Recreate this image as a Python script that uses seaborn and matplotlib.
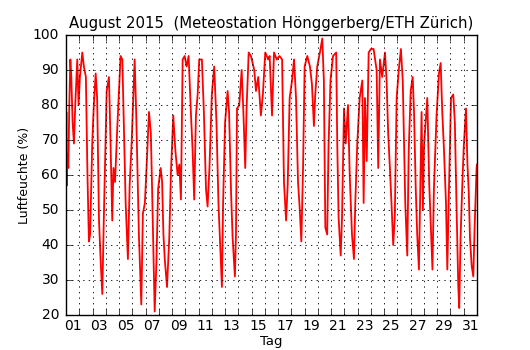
import matplotlib
matplotlib.use("Agg")
import matplotlib.pyplot as plt
import seaborn as sns
import pandas as pd
from matplotlib.ticker import MultipleLocator, FixedLocator, FixedFormatter, NullFormatter

# Time in days since 1 Aug 2015 00:00, relative humidity in %
tage = [
    0.00, 0.03, 0.06, 0.10, 0.18, 0.25, 0.33, 0.40, 0.50, 0.60, 0.70, 0.85, 0.95,
    1.05, 1.15, 1.23, 1.35, 1.50, 1.62, 1.73, 1.82, 1.98,
    2.10, 2.24, 2.35, 2.49, 2.62, 2.74, 2.85,
    3.07, 3.24, 3.35, 3.49, 3.58, 3.70, 3.85,
    4.12, 4.25, 4.50, 4.67, 4.80, 4.95,
    5.18, 5.30, 5.50, 5.68, 5.80, 5.95,
    6.10, 6.26, 6.40, 6.50, 6.69, 6.82, 6.95,
    7.14, 7.25, 7.35, 7.45, 7.62, 7.79, 7.92,
    8.09, 8.25, 8.42, 8.55, 8.67, 8.80, 8.95,
    9.10, 9.25, 9.43, 9.55, 9.67, 9.80, 9.93,
    10.05, 10.25, 10.40, 10.56, 10.68, 10.82,
    11.00, 11.18, 11.35, 11.50, 11.63, 11.76, 11.85,
    12.00, 12.19, 12.30, 12.45, 12.57, 12.74, 12.82, 12.90,
    13.07, 13.25, 13.38, 13.52, 13.62, 13.78, 13.95,
    14.20, 14.33, 14.50, 14.70, 14.85,
    15.03, 15.25, 15.36, 15.54, 15.69, 15.90,
    16.10, 16.30, 16.44, 16.60, 16.72, 16.87,
    17.05, 17.20, 17.35, 17.50, 17.62, 17.75, 17.88,
    18.00, 18.20, 18.40, 18.55, 18.70, 18.80, 18.95,
    19.20, 19.33, 19.45, 19.56, 19.70, 19.80, 19.95,
    20.14, 20.38, 20.46, 20.56, 20.72, 20.82, 20.97,
    21.10, 21.27, 21.40, 21.57, 21.72, 21.82, 21.97,
    22.15, 22.35, 22.45, 22.55, 22.68, 22.83,
    23.00, 23.20, 23.43, 23.55, 23.68, 23.85,
    24.06, 24.18, 24.30, 24.43, 24.55, 24.68, 24.80, 24.94,
    25.10, 25.26, 25.40, 25.48, 25.59, 25.74, 25.85,
    26.00, 26.15, 26.25, 26.38, 26.49, 26.62, 26.75, 26.82, 26.92,
    27.00, 27.25, 27.40, 27.64, 27.75, 27.95,
    28.13, 28.26, 28.38, 28.50, 28.66, 28.76, 28.88,
    29.04, 29.21, 29.33, 29.45, 29.59, 29.66, 29.76, 29.88,
    30.00, 30.17, 30.28, 30.38, 30.47, 30.60, 30.72, 30.82, 30.97, 31.00,
]
feuchte = [
    60, 78, 57, 66, 62, 80, 93, 88, 75, 69, 80, 93, 80,
    88, 92, 95, 91, 88, 60, 41, 43, 69,
    80, 89, 82, 47, 35, 26, 47,
    84, 88, 71, 47, 62, 58, 72,
    94, 93, 52, 36, 57, 69,
    93, 77, 43, 23, 49, 52,
    64, 78, 72, 55, 21, 35, 56,
    62, 58, 43, 36, 28, 42, 61,
    77, 67, 60, 63, 53, 93, 94,
    91, 94, 77, 67, 53, 77, 83,
    93, 93, 78, 56, 51, 62,
    83, 91, 75, 52, 40, 28, 52,
    75, 84, 78, 55, 42, 31, 43, 79,
    80, 90, 78, 62, 79, 95, 94,
    90, 84, 88, 77, 83,
    95, 93, 94, 77, 95, 93,
    94, 93, 58, 47, 57, 82,
    87, 93, 82, 58, 51, 41, 62,
    91, 94, 91, 86, 74, 83, 91,
    96, 99, 87, 45, 43, 68, 87,
    94, 95, 69, 48, 37, 48, 79,
    69, 80, 60, 43, 36, 52, 69,
    82, 87, 52, 82, 64, 95,
    96, 96, 90, 62, 93, 88,
    95, 87, 72, 62, 52, 40, 48, 82,
    90, 96, 87, 72, 52, 37, 67,
    84, 88, 78, 56, 43, 33, 62, 78, 50,
    68, 82, 57, 33, 56, 77,
    89, 92, 78, 68, 52, 33, 55,
    82, 83, 75, 52, 28, 22, 42, 56,
    68, 79, 63, 55, 42, 34, 31, 45, 62, 63,
]
tag_labels = ["01", "03", "05", "07", "09", "11", "13", "15",
              "17", "19", "21", "23", "25", "27", "29", "31"]
titel = "August 2015  (Meteostation Hönggerberg/ETH Zürich)"

df = pd.DataFrame({"Tag": tage, "Luftfeuchte": feuchte})

plt.style.use("classic")
plt.rcParams["font.family"] = ["DejaVu Sans"]
fig = plt.figure(figsize=(5.3, 3.5), dpi=100, facecolor="white")
ax = fig.add_axes([0.1245, 0.1, 0.7755, 0.8])

sns.lineplot(data=df, x="Tag", y="Luftfeuchte", ax=ax, color="red",
             linewidth=1.3, estimator=None, sort=False)

ax.set_xlim(0, 31)
ax.set_ylim(20, 100)
ax.xaxis.set_major_locator(MultipleLocator(1))
ax.xaxis.set_major_formatter(NullFormatter())
label_pos = [int(s) - 0.5 for s in tag_labels]
ax.xaxis.set_minor_locator(FixedLocator(label_pos))
ax.xaxis.set_minor_formatter(FixedFormatter(tag_labels))
ax.tick_params(axis="x", which="minor", length=0, labelsize=10, pad=3)
ax.yaxis.set_major_locator(MultipleLocator(10))
ax.tick_params(axis="y", which="major", labelsize=10, pad=5)
ax.tick_params(which="major", direction="in", length=4, top=True, right=True)
ax.grid(True, which="major", color="black", linestyle=":", linewidth=0.6)

ax.set_xlabel("Tag", fontsize=9.5, labelpad=1)
ax.set_ylabel("Luftfeuchte (%)", fontsize=9, labelpad=1)
ax.set_title(titel, fontsize=10.7)

fig.savefig("out.png", dpi=100, facecolor="white")
